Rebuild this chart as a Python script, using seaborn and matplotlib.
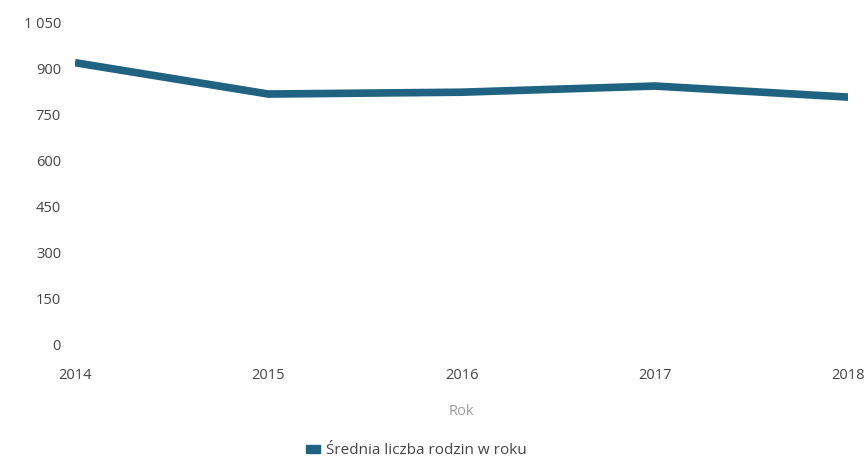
import pandas as pd
import matplotlib
matplotlib.use("Agg")
import matplotlib.pyplot as plt
import seaborn as sns
from matplotlib.patches import Patch
from matplotlib.ticker import FuncFormatter

# Data
years = [2014, 2015, 2016, 2017, 2018]
families = [918, 816, 822, 842, 806]
series_name = "Średnia liczba rodzin w roku"
y_ticks = [0, 150, 300, 450, 600, 750, 900, 1050]

df = pd.DataFrame({"Rok": years, "value": families})

sns.set_style("white")
plt.rcParams["font.family"] = ["Open Sans", "DejaVu Sans"]

line_color = "#1f6282"

fig = plt.figure(figsize=(8.67, 4.61), dpi=100)
ax = fig.add_axes([0.0865, 0.252, 0.892, 0.7])

sns.lineplot(data=df, x="Rok", y="value", ax=ax, color=line_color,
             linewidth=5.5, solid_capstyle="butt", legend=False)

ax.set_xlim(years[0], years[-1])
ax.set_ylim(0, 1050)
ax.set_xticks(years)
ax.set_yticks(y_ticks)
ax.yaxis.set_major_formatter(FuncFormatter(lambda v, p: f"{int(v):,}".replace(",", " ")))
ax.tick_params(axis="both", length=0, labelsize=10.5, labelcolor="#444444")
ax.tick_params(axis="x", pad=17)
ax.tick_params(axis="y", pad=10)
sns.despine(ax=ax, left=True, bottom=True)

ax.set_xlabel("Rok", fontsize=10.5, color="#9a9a9a", labelpad=15)
ax.set_ylabel("")

handles = [Patch(facecolor=line_color, edgecolor=line_color)]
fig.legend(handles, [series_name], loc="center", bbox_to_anchor=(0.48, 0.022),
           frameon=False, fontsize=11, handlelength=0.9, handleheight=0.5,
           handletextpad=0.4, labelcolor="#444444")

fig.savefig("out.png", dpi=100)
